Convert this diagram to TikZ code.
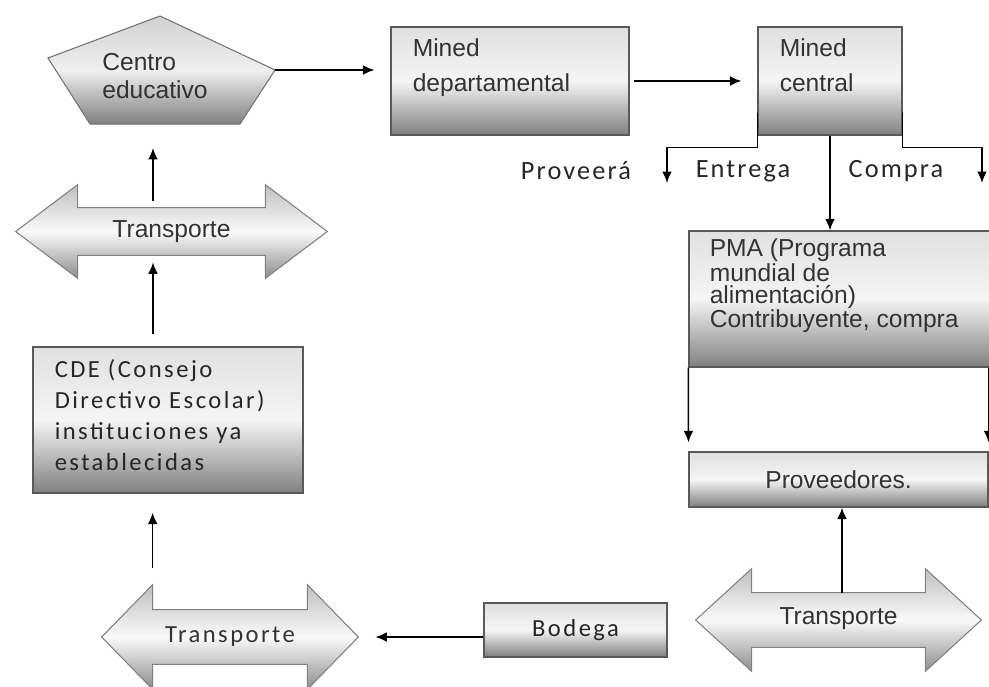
\documentclass[tikz,border=0pt]{standalone}
\usepackage{fontspec}
\usetikzlibrary{arrows.meta,calc,backgrounds}
\newfontfamily\arialfont{Liberation Sans}
\newfontfamily\calfont[LetterSpace=10]{Carlito}
\newfontfamily\callabel[LetterSpace=8]{Carlito}

\tikzset{
  box/.style={draw=black!65, line width=0.7pt, top color=black!12, bottom color=black!50, middle color=black!4, inner sep=0pt},
  pent/.style={draw=black!55, line width=0.6pt, top color=black!18, bottom color=black!50, middle color=black!6},
  arrowbody/.style={draw=black!50, line width=0.6pt, top color=black!25, bottom color=black!45, middle color=black!2},
  shaft/.style={inner sep=0pt, text=black!80},
  arialtxt/.style={font=\arialfont\fontsize{14}{20}\selectfont, align=left, inner sep=0pt, text=black!80},
  caltxt/.style={font=\calfont\fontsize{14}{17.6}\selectfont, align=left, inner sep=0pt, text=black!85},
  lbl/.style={font=\callabel\fontsize{15}{18}\selectfont, inner sep=0pt, text=black!85},
  arr/.style={-{Latex[length=6.5pt,width=5.5pt]}, line width=0.9pt}
}

% outline of a two-headed block arrow round a shaft node
\newcommand{\dblarrow}[3]{%
  \draw[arrowbody] (#1.north west) -- ++(0,-#2) -- ($(#1.west)+(-#3,0)$) coordinate (#1-l)
    -- ($(#1.south west)+(0,#2)$) -- (#1.south west) -- (#1.south east) -- ++(0,#2)
    -- ($(#1.east)+(#3,0)$) coordinate (#1-r) -- ($(#1.north east)+(0,-#2)$) -- (#1.north east) -- cycle;}

\begin{document}
\begin{tikzpicture}[x=0.02cm,y=-0.02cm]
\useasboundingbox (0,0) rectangle (989,686);

% centro educativo
\draw[pent] (160,16) -- (275,70) coordinate (cr) -- (240,124) -- (90,124) coordinate (cb) -- (48,58) -- cycle;
\node[arialtxt, font=\arialfont\fontsize{14}{16}\selectfont, anchor=north west] (centro) at (102,53) {Centro\\educativo};

% mined
\node[box, minimum width=4.76cm, minimum height=2.16cm] (dep) at (510,81) {};
\node[arialtxt, anchor=north west] (dep-txt) at ($(dep.north west)+(22,12)$) {Mined\\departamental};
\node[box, minimum width=2.88cm, minimum height=2.16cm] (cen) at (830,81) {};
\node[arialtxt, anchor=north west] (cen-txt) at ($(cen.north west)+(22,12)$) {Mined\\central};

% pma y proveedores
\node[box, minimum width=6.04cm, minimum height=2.72cm] (pma) at (840,299) {};
\node[arialtxt, font=\arialfont\fontsize{14}{12.5}\selectfont, anchor=north west] (pma-txt) at ($(pma.north west)+(21,8)$)
  {PMA (Programa\\mundial de\\alimentación)\\Contribuyente, compra};
\node[box, minimum width=5.98cm, minimum height=1.1cm, font=\arialfont\fontsize{14}{16}\selectfont, text=black!80] (prov) at (838.5,479.5) {Proveedores.};

% cde y bodega
\node[box, minimum width=5.4cm, minimum height=2.92cm] (cde) at (168,420) {};
\node[caltxt, anchor=north west] (cde-txt) at ($(cde.north west)+(22,13)$)
  {CDE (Consejo\\Directivo Escolar)\\instituciones ya\\establecidas};
\node[box, minimum width=3.66cm, minimum height=1.08cm, font=\calfont\fontsize{14}{17}\selectfont, text=black!85] (bodega) at (575.5,630) {Bodega};

% transporte
\node[shaft, minimum width=3.74cm, minimum height=0.94cm, font=\arialfont\fontsize{14}{16}\selectfont] (tr1) at (171.5,231.5) {Transporte};
\node[shaft, minimum width=3.08cm, minimum height=1.08cm, font=\calfont\fontsize{14}{17}\selectfont] (tr2) at (230,637) {Transporte};
\node[shaft, minimum width=3.46cm, minimum height=1.08cm, font=\arialfont\fontsize{14}{16}\selectfont] (tr3) at (838.5,620) {\raisebox{4pt}{Transporte}};
\begin{scope}[on background layer]
  \dblarrow{tr1}{23}{62}
  \dblarrow{tr2}{25}{51}
  \dblarrow{tr3}{24}{56}
\end{scope}

% etiquetas
\node[lbl] (proveera) at (576,171) {Proveerá};
\node[lbl] (entrega) at (743,171) {Entrega};
\node[lbl] (compra) at (896,171) {Compra};

% conectores
\coordinate (lend) at (667,183);
\coordinate (rend) at (982,183);
\coordinate (cdeup) at ($(cde.north)+(-15,0)$);
\coordinate (tr1up) at ($(tr1.north)+(-18.5,0)$);
\coordinate (tr3up) at ($(tr3.north)+(3.5,0)$);
\draw[arr, shorten >=0.32cm] (cr) -- (cr -| dep.west);
\draw[arr, shorten <=0.08cm, shorten >=0.32cm] (dep.east) -- (cen.west);
\draw[arr] ($(cen.south west)+(0,-23)$) -- ++(0,35) -| (lend);
\draw[arr] ($(cen.south east)+(0,-23)$) -- ++(0,35) -| (rend);
\draw[arr] (cen.south) -- (cen.south |- pma.north);
\draw[arr, shorten >=0.18cm] (pma.south west) -- (prov.north west);
\draw[arr, shorten >=0.18cm] (prov.north east |- pma.south) -- (prov.north east);
\draw[arr] (tr3up) -- (tr3up |- prov.south);
\draw[arr, shorten >=0.34cm] (bodega.west |- tr2.east) -- (tr2-r);
\draw[arr, shorten <=0.84cm, shorten >=0.38cm] (tr2.north west) -- (tr2.north west |- cde.south);
\draw[arr, shorten <=0.24cm, shorten >=0.14cm] (cdeup) -- (cdeup |- tr1.south);
\draw[arr, shorten <=0.14cm, shorten >=0.48cm] (tr1up) -- (tr1up |- cb);
\end{tikzpicture}
\end{document}
